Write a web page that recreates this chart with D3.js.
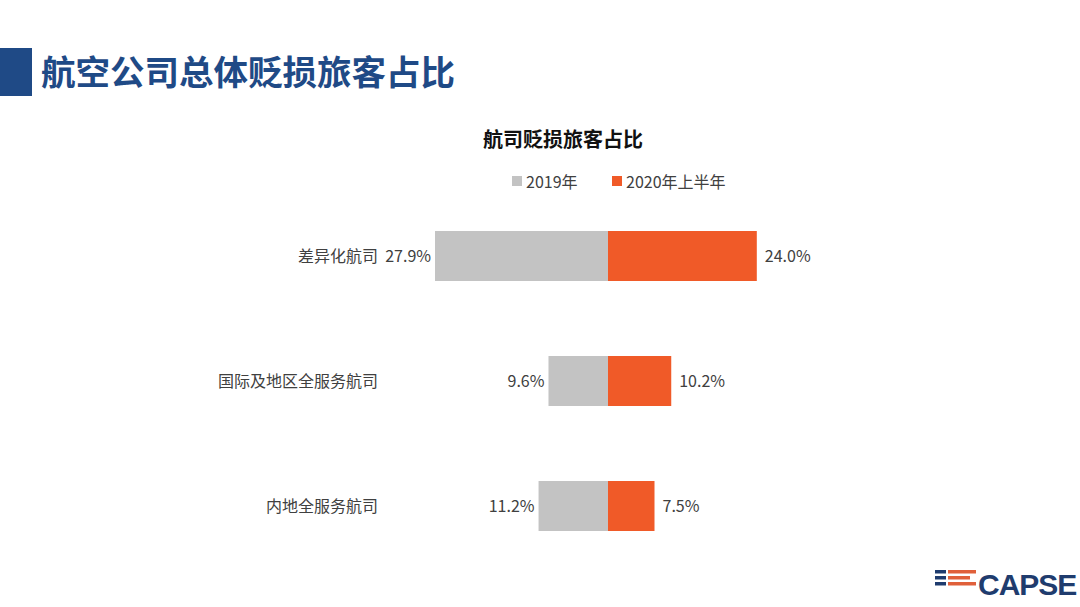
<!DOCTYPE html>
<html><head><meta charset="utf-8">
<script src="https://cdn.jsdelivr.net/npm/d3@7"></script>
<style>body{margin:0;background:#fff;}svg{display:block;font-family:"Noto Sans CJK SC","Noto Sans",sans-serif;}</style>
</head><body>
<svg id="c" width="1080" height="607"></svg>
<script>
const categories = ["差异化航司", "国际及地区全服务航司", "内地全服务航司"];
const series = ["2019年", "2020年上半年"];
const values2019 = [27.9, 9.6, 11.2];
const values2020H1 = [24.0, 10.2, 7.5];
const colors = ["#c3c3c3", "#f05a28"];

const svg = d3.select("#c");
// page title
svg.append("rect").attr("x",0).attr("y",48).attr("width",32).attr("height",48).attr("fill","#1f4a86");
svg.append("text").attr("x",41).attr("y",85).attr("font-size",34.5).attr("font-weight",700)
  .attr("fill","#1f4a86").text("航空公司总体贬损旅客占比");

// chart title
svg.append("text").attr("x",563).attr("y",147).attr("text-anchor","middle").attr("font-size",20)
  .attr("font-weight",700).attr("fill","#111").text("航司贬损旅客占比");

// legend
const legX = [512, 612];
series.forEach((s,i)=>{
  svg.append("rect").attr("x",legX[i]).attr("y",176).attr("width",10).attr("height",10).attr("fill",colors[i]);
  svg.append("text").attr("x",legX[i]+14).attr("y",187.5).attr("font-size",16).attr("fill","#404040").text(s);
});

const center = 608;
const x = d3.scaleLinear().domain([0,10]).range([0,62]);
const y = d3.scaleBand().domain(categories).range([193.5,568.5]).paddingInner(0.6).paddingOuter(0.3);

const g = svg.append("g");
categories.forEach((c,i)=>{
  const y0 = y(c), h = y.bandwidth(), yc = y0 + h/2;
  g.append("rect").attr("x",center - x(values2019[i])).attr("y",y0).attr("width",x(values2019[i])).attr("height",h).attr("fill",colors[0]);
  g.append("rect").attr("x",center).attr("y",y0).attr("width",x(values2020H1[i])).attr("height",h).attr("fill",colors[1]);
  g.append("text").attr("x",center - x(values2019[i]) - 4).attr("y",yc).attr("dy","0.35em").attr("text-anchor","end")
    .attr("font-size",16).attr("fill","#404040").text(values2019[i].toFixed(1)+"%");
  g.append("text").attr("x",center + x(values2020H1[i]) + 8).attr("y",yc).attr("dy","0.35em")
    .attr("font-size",16).attr("fill","#404040").text(values2020H1[i].toFixed(1)+"%");
  g.append("text").attr("x",378).attr("y",yc).attr("dy","0.35em").attr("text-anchor","end")
    .attr("font-size",16).attr("fill","#404040").text(c);
});

// logo
const lg = svg.append("g");
const rows = [[570, 28],[576, 22],[582, 28]];
rows.forEach(([yy,len])=>{
  lg.append("rect").attr("x",935).attr("y",yy).attr("width",11).attr("height",3.5).attr("fill","#1f3c6e");
  lg.append("rect").attr("x",948).attr("y",yy).attr("width",len).attr("height",3.5).attr("fill","#e0603a");
});
lg.append("text").attr("x",978).attr("y",595).attr("font-size",30).attr("font-weight",700)
  .attr("font-family","Liberation Sans, Arial, sans-serif").attr("fill","#1f3c6e").attr("letter-spacing",-1).text("CAPSE");
</script>
</body></html>
